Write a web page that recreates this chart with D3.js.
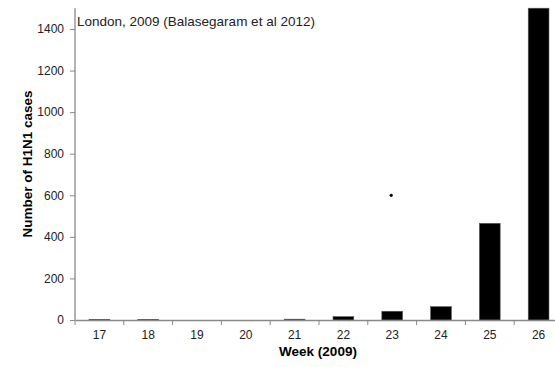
<!DOCTYPE html>
<html>
<head>
<meta charset="utf-8">
<script src="https://cdn.jsdelivr.net/npm/d3@7"></script>
<style>
  body { margin: 0; background: #fff; }
  svg { display: block; font-family: "Liberation Sans", Arial, sans-serif; }
</style>
</head>
<body>
<div id="chart"></div>
<script>
// Weekly counts
var weeks = ['17', '18', '19', '20', '21', '22', '23', '24', '25', '26'];
var cases = [3, 3, 0, 0, 4, 16, 42, 64, 465, 1500];
var yTicks = [0, 200, 400, 600, 800, 1000, 1200, 1400];
// stray marker in the original plot
var markerWeek = ['23'];
var markerValue = [600];

var W = 555, H = 367;
var axisColor = '#888888', textColor = '#222222';

var svg = d3.select('#chart').append('svg')
    .attr('width', W)
    .attr('height', H);

// plot runs off the right edge like in the source picture
var x = d3.scaleBand()
    .domain(weeks)
    .range([75, 563])
    .paddingInner(0.575)
    .paddingOuter(0.2875);

var y = d3.scaleLinear()
    .domain([0, 1500])
    .range([320, 8.2]);

// bars
svg.append('g').selectAll('rect')
    .data(weeks)
    .enter().append('rect')
    .attr('x', function (d) { return x(d); })
    .attr('width', x.bandwidth())
    .attr('y', function (d, i) { return y(cases[i]); })
    .attr('height', function (d, i) { return y(0) - y(cases[i]); })
    .attr('fill', '#000')
    .attr('stroke', '#555')
    .attr('stroke-width', 0.6);

// y axis
var yAxis = svg.append('g')
    .attr('transform', 'translate(75,0)')
    .call(d3.axisLeft(y).tickValues(yTicks).tickSize(5).tickPadding(6).tickFormat(d3.format('d')));
yAxis.select('.domain').attr('stroke', axisColor).attr('stroke-width', 1.3).attr('d', 'M0,' + y(1500) + 'V' + y(0));
yAxis.selectAll('.tick line').attr('stroke', axisColor);
yAxis.selectAll('.tick text').attr('fill', textColor).style('font-size', '12px');

// x axis: labels centred, ticks at category boundaries
var xAxis = svg.append('g')
    .attr('transform', 'translate(0,' + y(0) + ')')
    .call(d3.axisBottom(x).tickSize(0).tickPadding(10));
xAxis.select('.domain').attr('stroke', axisColor).attr('stroke-width', 1.3);
xAxis.selectAll('.tick text').attr('fill', textColor).style('font-size', '12px');

var step = x.step();
var bounds = d3.range(weeks.length + 1).map(function (i) { return 75 + i * step; });
xAxis.selectAll('line.sep')
    .data(bounds)
    .enter().append('line')
    .attr('class', 'sep')
    .attr('x1', function (d) { return d; })
    .attr('x2', function (d) { return d; })
    .attr('y1', 0)
    .attr('y2', 5)
    .attr('stroke', axisColor);

// marker
svg.append('circle')
    .attr('cx', x(markerWeek[0]) + x.bandwidth() / 2 - 1)
    .attr('cy', y(markerValue[0]))
    .attr('r', 1.6)
    .attr('fill', '#000');

// titles
svg.append('text')
    .attr('x', 77)
    .attr('y', 26)
    .attr('fill', textColor)
    .style('font-size', '13.5px')
    .text('London, 2009 (Balasegaram et al 2012)');

svg.append('text')
    .attr('transform', 'translate(32,164) rotate(-90)')
    .attr('text-anchor', 'middle')
    .attr('fill', '#000')
    .style('font-size', '13.5px')
    .style('font-weight', 'bold')
    .text('Number of H1N1 cases');

svg.append('text')
    .attr('x', 318)
    .attr('y', 356)
    .attr('text-anchor', 'middle')
    .attr('fill', '#000')
    .style('font-size', '13.5px')
    .style('font-weight', 'bold')
    .text('Week (2009)');
</script>
</body>
</html>
